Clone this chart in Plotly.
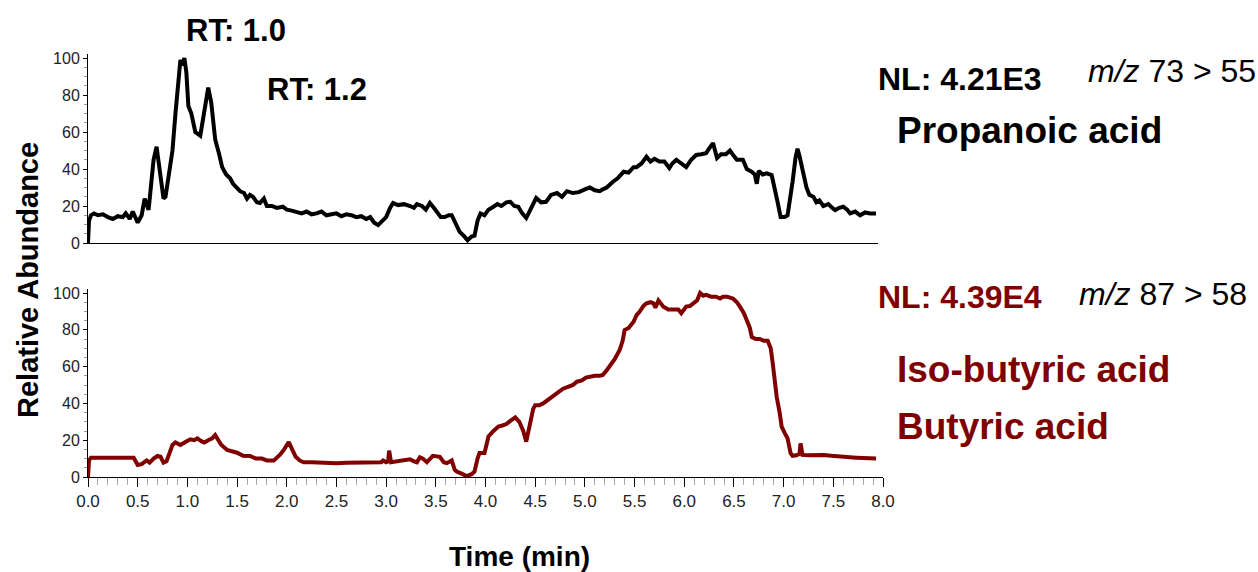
import plotly.graph_objects as go

# ---- data ----
prop_time = [0.00, 0.01, 0.03, 0.06, 0.10, 0.15, 0.20, 0.25, 0.30, 0.35, 0.38, 0.42, 0.45, 0.48, 0.50,
             0.54, 0.57, 0.61, 0.66, 0.69, 0.72, 0.76, 0.78, 0.82, 0.85, 0.88, 0.91, 0.93, 0.95, 0.97,
             0.99, 1.01, 1.04, 1.08, 1.13, 1.17, 1.21, 1.24, 1.28, 1.32, 1.35, 1.39, 1.43, 1.46, 1.50,
             1.53, 1.57, 1.60, 1.63, 1.66, 1.70, 1.73, 1.77, 1.80, 1.85, 1.90, 1.96, 2.00, 2.05, 2.10,
             2.15, 2.20, 2.25, 2.30, 2.35, 2.40, 2.45, 2.50, 2.55, 2.60, 2.65, 2.70, 2.75, 2.80, 2.84,
             2.88, 2.92, 2.96, 3.00, 3.04, 3.07, 3.12, 3.18, 3.24, 3.28, 3.31, 3.36, 3.40, 3.44, 3.48,
             3.51, 3.55, 3.59, 3.63, 3.66, 3.70, 3.74, 3.78, 3.82, 3.86, 3.89, 3.92, 3.95, 3.99, 4.03,
             4.08, 4.12, 4.16, 4.21, 4.25, 4.29, 4.33, 4.37, 4.41, 4.45, 4.48, 4.51, 4.56, 4.61, 4.66,
             4.72, 4.77, 4.82, 4.88, 4.94, 5.00, 5.05, 5.10, 5.15, 5.18, 5.22, 5.28, 5.33, 5.39, 5.44,
             5.49, 5.52, 5.57, 5.62, 5.66, 5.70, 5.75, 5.80, 5.85, 5.88, 5.92, 5.97, 6.02, 6.07, 6.12,
             6.17, 6.22, 6.25, 6.29, 6.33, 6.37, 6.42, 6.46, 6.50, 6.53, 6.59, 6.63, 6.68, 6.71, 6.73,
             6.75, 6.79, 6.83, 6.88, 6.91, 6.94, 6.97, 7.01, 7.04, 7.07, 7.09, 7.12, 7.14, 7.16, 7.19,
             7.23, 7.26, 7.30, 7.33, 7.36, 7.40, 7.45, 7.49, 7.52, 7.56, 7.60, 7.64, 7.67, 7.72, 7.77,
             7.82, 7.87, 7.93]
prop_abund = [0, 12, 15, 16, 15, 15.5, 14, 13, 14.5, 14, 16, 13, 17, 14, 11,
              15, 24, 18, 45, 52, 38, 24, 25, 40, 50, 70, 86, 99, 96, 100,
              92, 74, 70, 60, 58, 70, 84, 76, 56, 48, 41, 37, 35, 32, 30,
              28, 27, 24, 26, 25, 22, 21.6, 24, 20, 20, 19, 19.6, 18, 17.5, 17,
              16, 17, 15.5, 16, 17, 15, 15.5, 16, 14.5, 15.5, 15, 14, 14.5, 13, 14,
              11, 9.7, 12, 14, 19, 21.6, 20.5, 21, 20, 19, 21, 20, 18, 21.6, 19,
              17, 14, 14, 15, 15, 10, 6, 4, 1.5, 3.5, 4, 12, 16, 15, 18,
              19.6, 21, 20, 22, 22.3, 20, 19.6, 16, 13.5, 18, 22, 24.3, 22, 22.3, 26,
              27, 25, 28, 27, 27.5, 29, 30, 28.5, 28, 29, 30, 33, 35, 38.5, 38,
              41, 41, 43, 46.6, 44, 45.5, 44, 44, 40.5, 43, 45, 43, 41, 45, 47.6,
              48, 48.5, 51, 54, 46, 48, 48, 50, 47, 45, 45, 40, 38.5, 37, 32,
              39, 37, 37.6, 36.7, 30, 22, 14, 14, 15, 25, 33, 46, 51, 47, 38.5,
              30, 26, 25, 22, 23, 20, 21, 19, 17.8, 19, 19.6, 18, 16, 17, 15,
              16.5, 16, 16]

but_time = [0.00, 0.01, 0.03, 0.10, 0.15, 0.20, 0.25, 0.30, 0.35, 0.40, 0.46, 0.50, 0.54, 0.59, 0.62,
            0.66, 0.70, 0.73, 0.76, 0.79, 0.82, 0.85, 0.88, 0.93, 0.98, 1.03, 1.07, 1.10, 1.14, 1.17,
            1.21, 1.25, 1.28, 1.31, 1.34, 1.40, 1.45, 1.50, 1.56, 1.63, 1.69, 1.75, 1.80, 1.87, 1.93,
            1.97, 2.02, 2.05, 2.09, 2.13, 2.17, 2.25, 2.30, 2.40, 2.50, 2.60, 2.70, 2.80, 2.90, 2.95,
            2.97, 3.00, 3.02, 3.03, 3.05, 3.10, 3.17, 3.24, 3.28, 3.31, 3.34, 3.37, 3.41, 3.44, 3.47,
            3.54, 3.58, 3.61, 3.66, 3.69, 3.71, 3.76, 3.81, 3.86, 3.89, 3.92, 3.94, 3.99, 4.03, 4.08,
            4.13, 4.17, 4.21, 4.25, 4.30, 4.34, 4.38, 4.41, 4.43, 4.45, 4.48, 4.50, 4.54, 4.58, 4.63,
            4.68, 4.73, 4.78, 4.83, 4.88, 4.92, 4.97, 5.01, 5.05, 5.10, 5.15, 5.18, 5.22, 5.25, 5.30,
            5.35, 5.38, 5.40, 5.44, 5.49, 5.52, 5.55, 5.59, 5.62, 5.66, 5.69, 5.71, 5.74, 5.79, 5.84,
            5.89, 5.94, 5.97, 6.02, 6.06, 6.09, 6.13, 6.16, 6.19, 6.22, 6.27, 6.32, 6.36, 6.39, 6.43,
            6.49, 6.53, 6.56, 6.60, 6.63, 6.66, 6.68, 6.72, 6.76, 6.80, 6.84, 6.87, 6.89, 6.91, 6.93,
            6.96, 6.98, 7.01, 7.04, 7.07, 7.09, 7.13, 7.16, 7.17, 7.19, 7.25, 7.32, 7.40, 7.48, 7.57,
            7.65, 7.73, 7.80, 7.86, 7.93]
but_abund = [0, 9, 10.5, 10.5, 10.8, 10.3, 10.8, 10.5, 10.6, 10.4, 10.5, 6.5, 7, 9, 7.8,
             10, 11.4, 11, 7.8, 8.5, 13, 17.4, 18.8, 17.4, 19, 20.5, 20, 21, 19.5, 18.8,
             20, 21, 22.8, 20, 17.5, 14.7, 14, 13.2, 11.5, 11.4, 10, 10, 9, 9, 12,
             14.7, 19, 15, 11, 9, 8, 8, 7.8, 7.8, 7.5, 7.8, 7.8, 7.8, 7.8, 8,
             9, 8, 8.5, 14.3, 8, 8.5, 8.7, 9.6, 8.5, 8, 10.7, 10, 8, 9.5, 11.5,
             11, 8, 7.5, 9, 4, 3, 1.8, 0.5, 1.5, 3, 10, 13, 13, 22, 25,
             27.4, 28, 28.8, 30.5, 32.4, 30, 25, 19.2, 25, 31, 37, 39, 39, 40, 42,
             44.6, 46, 48, 49, 50, 51.8, 52.5, 54, 54.5, 55, 55, 55.4, 58, 60, 64,
             69, 74, 79.9, 81, 84.4, 88, 89.8, 93, 94.4, 95, 94.4, 92, 96, 92.6, 91,
             90.8, 91, 89, 92.6, 93, 94.4, 96, 100, 98.5, 99, 98, 98, 97, 98, 98,
             97, 95, 92.6, 89, 85, 81, 76, 75, 75, 74, 74, 70, 62, 52, 43.6,
             35, 27.4, 24, 21, 13, 11.5, 11.8, 12.5, 18.3, 12, 11.8, 12, 12, 11.5, 11,
             10.7, 10.5, 10.3, 10.2, 10]

x_tick_vals = [0.0, 0.5, 1.0, 1.5, 2.0, 2.5, 3.0, 3.5, 4.0, 4.5, 5.0, 5.5, 6.0, 6.5, 7.0, 7.5, 8.0]
y_tick_vals = [0, 20, 40, 60, 80, 100]

BLACK = "#000000"
RED = "#800000"
FONT = "Arial, Liberation Sans, Helvetica, sans-serif"

W, H = 1258, 572

def px_x(p):
    return p / W

def px_y(p):
    return 1 - p / H

fig = go.Figure()
fig.add_trace(go.Scatter(x=prop_time, y=prop_abund, mode="lines",
                         line=dict(color=BLACK, width=4), xaxis="x2", yaxis="y2",
                         showlegend=False))
fig.add_trace(go.Scatter(x=but_time, y=but_abund, mode="lines",
                         line=dict(color=RED, width=4), xaxis="x", yaxis="y",
                         showlegend=False))

yaxis_common = dict(
    range=[0, 102], tickvals=y_tick_vals, ticks="outside", ticklen=4, tickwidth=1,
    tickcolor="#000", showline=True, linecolor="#000", linewidth=1, showgrid=False,
    zeroline=False, automargin=False, tickfont=dict(family=FONT, size=16, color="#222"),
    minor=dict(dtick=5, ticks="outside", ticklen=3, tickcolor="#999"),
)

fig.update_layout(
    template="none",
    width=W, height=H, margin=dict(l=0, r=0, t=0, b=0, pad=0),
    paper_bgcolor="white", plot_bgcolor="white",
    xaxis=dict(domain=[px_x(88), px_x(883)], range=[0, 8], anchor="y", automargin=False,
               tickvals=x_tick_vals, tickformat=".1f", ticks="outside", ticklen=9,
               tickwidth=1, tickcolor="#000", showline=True, linecolor="#000",
               linewidth=1, showgrid=False, zeroline=False,
               tickfont=dict(family=FONT, size=17, color="#222"),
               minor=dict(dtick=0.1, ticks="outside", ticklen=7, tickcolor="#aaa")),
    yaxis=dict(domain=[px_y(477), px_y(477 - 102 * 1.84)], anchor="x", **yaxis_common),
    xaxis2=dict(domain=[px_x(88), px_x(878)], range=[0, 7.95], anchor="y2", automargin=False,
                showticklabels=False, ticks="", showline=True, linecolor="#000",
                linewidth=1, showgrid=False, zeroline=False),
    yaxis2=dict(domain=[px_y(243), px_y(243 - 102 * 1.85)], anchor="x2", **yaxis_common),
)

def ann(text, x, y, size, color=BLACK, bold=True, xanchor="left", angle=0):
    t = f"<b>{text}</b>" if bold else text
    fig.add_annotation(text=t, x=px_x(x), y=px_y(y), xref="paper", yref="paper",
                       xanchor=xanchor, yanchor="middle", showarrow=False, textangle=angle,
                       borderpad=0, font=dict(family=FONT, size=size, color=color))

ann("RT: 1.0", 236, 30, 31, xanchor="center")
ann("RT: 1.2", 317, 89, 31, xanchor="center")
ann("NL: 4.21E3", 877, 79, 32)
ann("<i>m/z</i> 73 &gt; 55", 1087, 71, 32, bold=False)
ann("Propanoic acid", 896, 130, 37)
ann("NL: 4.39E4", 877, 297, 32, color=RED)
ann("<i>m/z</i> 87 &gt; 58", 1078, 294, 32, bold=False)
ann("Iso-butyric acid", 896, 369, 37, color=RED)
ann("Butyric acid", 896, 426, 37, color=RED)
ann("Time (min)", 519, 556, 28, xanchor="center")
ann("Relative Abundance", 28, 280, 29, xanchor="center", angle=-90)

fig.write_html("out.html")
